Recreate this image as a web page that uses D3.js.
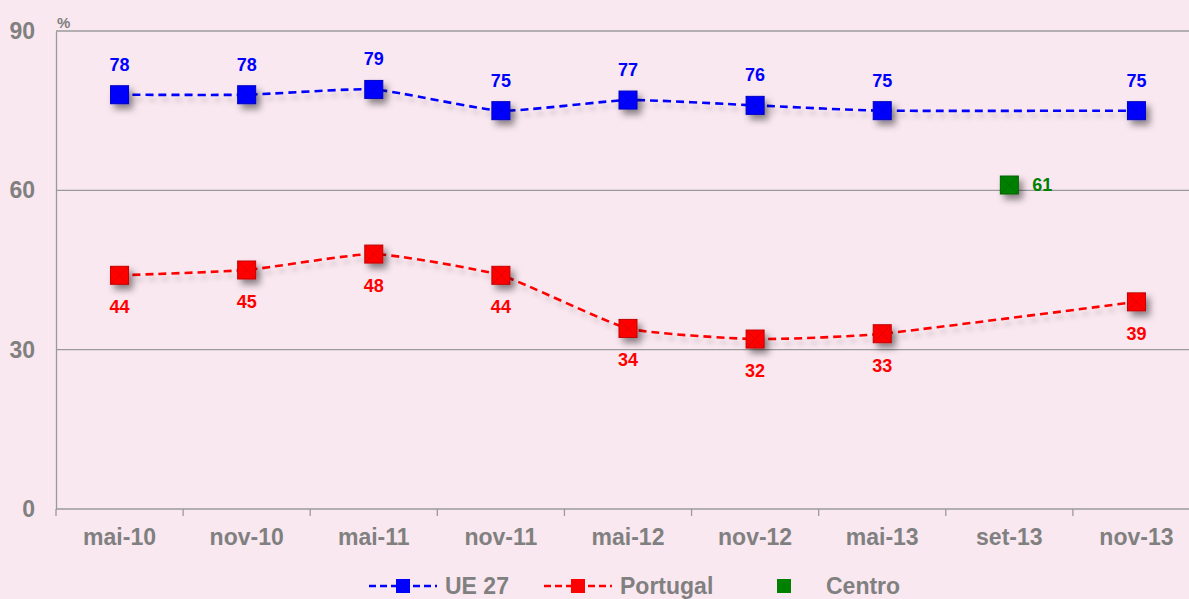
<!DOCTYPE html>
<html>
<head>
<meta charset="utf-8">
<script src="https://cdn.jsdelivr.net/npm/d3@7"></script>
<style>
  html, body { margin: 0; padding: 0; background: #FAE8F0; }
  svg { display: block; font-family: "Liberation Sans", Arial, sans-serif; }
</style>
</head>
<body>
<svg id="chart" width="1189" height="599"></svg>
<script>
// Survey periods
const periods = ["mai-10", "nov-10", "mai-11", "nov-11", "mai-12", "nov-12", "mai-13", "set-13", "nov-13"];
// Shares in percent (null = no survey in that period)
const ue27     = [78, 78, 79, 75, 77, 76, 75, null, 75];
const portugal = [44, 45, 48, 44, 34, 32, 33, null, 39];
const centro   = [null, null, null, null, null, null, null, 61, null];
const yTicks = [0, 30, 60, 90];

const series = [
  { name: "UE 27",    values: ue27,     color: "#0000FF", line: true,  labelPos: "above" },
  { name: "Portugal", values: portugal, color: "#FF0000", line: true,  labelPos: "below" },
  { name: "Centro",   values: centro,   color: "#008000", line: false, labelPos: "right" }
];

const svg = d3.select("#chart");
const margin = { left: 56, top: 31, bottom: 90 };
const plotW = 1144;
const plotH = 599 - margin.top - margin.bottom;

const defs = svg.append("defs");
const f = defs.append("filter").attr("id", "shadow")
  .attr("x", "-50%").attr("y", "-50%").attr("width", "220%").attr("height", "220%");
f.append("feDropShadow").attr("dx", 4).attr("dy", 5).attr("stdDeviation", 3.5)
  .attr("flood-color", "#000").attr("flood-opacity", 0.45);
const fl = defs.append("filter").attr("id", "lshadow")
  .attr("x", "-10%").attr("y", "-100%").attr("width", "120%").attr("height", "400%");
fl.append("feDropShadow").attr("dx", 3).attr("dy", 5).attr("stdDeviation", 2.5)
  .attr("flood-color", "#000").attr("flood-opacity", 0.18);

const x = d3.scaleBand().domain(periods).range([margin.left, margin.left + plotW]);
const y = d3.scaleLinear().domain([0, 90]).range([margin.top + plotH, margin.top]);
const cx = p => x(p) + x.bandwidth() / 2;

const g = svg.append("g");

// Horizontal gridlines
g.selectAll("line.grid").data(yTicks.filter(t => t > 0)).join("line")
  .attr("class", "grid")
  .attr("x1", margin.left).attr("x2", 1189)
  .attr("y1", d => y(d)).attr("y2", d => y(d))
  .attr("stroke", "#9a9a9a").attr("stroke-width", 1.3);

// Y axis
const yAxis = d3.axisLeft(y).tickValues(yTicks).tickSize(0).tickPadding(21);
const yg = g.append("g").attr("transform", `translate(${margin.left},0)`).call(yAxis);
yg.select(".domain").attr("stroke", "#9a9a9a").attr("stroke-width", 1.3);
yg.selectAll("text").attr("fill", "#808080").attr("font-size", 23).attr("font-weight", "bold")
  .attr("font-family", "Liberation Sans, Arial, sans-serif");

// X axis with ticks on band boundaries
const xg = g.append("g").attr("transform", `translate(0,${y(0)})`);
xg.append("line").attr("x1", margin.left).attr("x2", 1189).attr("y1", 0).attr("y2", 0)
  .attr("stroke", "#9a9a9a").attr("stroke-width", 1.3);
xg.selectAll("line.tick").data(periods).join("line").attr("class", "tick")
  .attr("x1", d => x(d)).attr("x2", d => x(d)).attr("y1", 0).attr("y2", 7)
  .attr("stroke", "#9a9a9a").attr("stroke-width", 1.3);
xg.selectAll("text").data(periods).join("text")
  .attr("x", d => cx(d)).attr("y", 36)
  .attr("text-anchor", "middle").attr("fill", "#808080")
  .attr("font-size", 23).attr("font-weight", "bold").text(d => d);

// Unit label
g.append("text").attr("x", 57).attr("y", 28).attr("fill", "#808080")
  .attr("font-size", 15).attr("font-weight", "bold").text("%");

// Lines
const line = d3.line()
  .x(d => cx(d.p)).y(d => y(d.v))
  .curve(d3.curveCardinal.tension(0.5));

const markerSize = 18;
series.forEach(s => {
  const pts = periods.map((p, i) => ({ p, v: s.values[i] })).filter(d => d.v !== null);
  if (s.line) {
    g.append("path").datum(pts)
      .attr("d", line).attr("fill", "none")
      .attr("stroke", s.color).attr("stroke-width", 2.6)
      .attr("stroke-dasharray", "8,5")
      .attr("filter", "url(#lshadow)");
  }
  const m = g.append("g").selectAll("g").data(pts).join("g")
    .attr("transform", d => `translate(${cx(d.p)},${y(d.v)})`);
  m.append("rect")
    .attr("x", -markerSize / 2).attr("y", -markerSize / 2)
    .attr("width", markerSize).attr("height", markerSize)
    .attr("fill", s.color).attr("stroke", d3.color(s.color).darker(0.8)).attr("stroke-width", 1)
    .attr("filter", "url(#shadow)");
  m.append("path")
    .attr("d", `M${-markerSize/2},${-markerSize/2}L${markerSize/2},${markerSize/2}M${markerSize/2},${-markerSize/2}L${-markerSize/2},${markerSize/2}`)
    .attr("stroke", d3.color(s.color).darker(0.8)).attr("stroke-width", 0.8).attr("opacity", 0.6);
  m.append("text")
    .attr("x", s.labelPos === "right" ? 23 : 0)
    .attr("y", s.labelPos === "above" ? -24 : s.labelPos === "below" ? 38 : 6)
    .attr("text-anchor", s.labelPos === "right" ? "start" : "middle")
    .attr("fill", s.color).attr("font-size", 18).attr("font-weight", "bold")
    .text(d => d.v);
});

// Legend
const legendItems = [
  { s: series[0], lx: 369, tx: 445 },
  { s: series[1], lx: 544, tx: 620 },
  { s: series[2], lx: 777, tx: 826 }
];
const ly = 586;
const lg = svg.append("g");
legendItems.forEach(it => {
  if (it.s.line) {
    lg.append("line").attr("x1", it.lx).attr("x2", it.lx + 68).attr("y1", ly).attr("y2", ly)
      .attr("stroke", it.s.color).attr("stroke-width", 2.6).attr("stroke-dasharray", "7,4");
    lg.append("rect").attr("x", it.lx + 27).attr("y", ly - 7).attr("width", 14).attr("height", 14)
      .attr("fill", it.s.color);
  } else {
    lg.append("rect").attr("x", it.lx).attr("y", ly - 7).attr("width", 14).attr("height", 14)
      .attr("fill", it.s.color);
  }
  lg.append("text").attr("x", it.tx).attr("y", ly + 8).attr("fill", "#808080")
    .attr("font-size", 23).attr("font-weight", "bold").text(it.s.name);
});
</script>
</body>
</html>
